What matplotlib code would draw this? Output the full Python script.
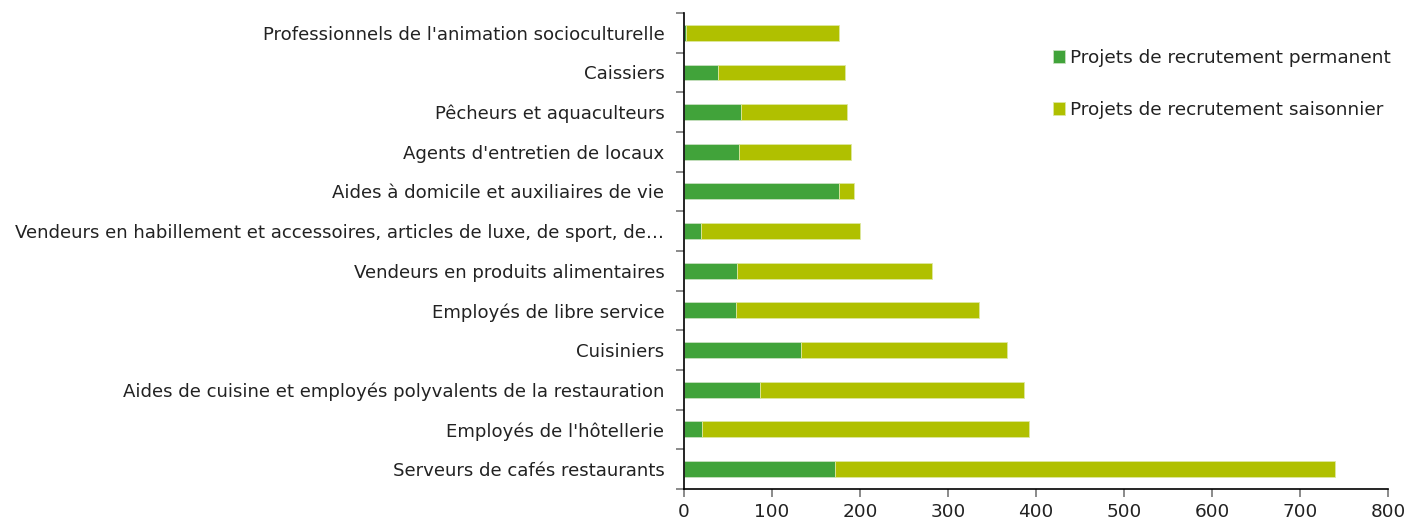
import numpy as np
import matplotlib
matplotlib.use('Agg')
import matplotlib.pyplot as plt
from matplotlib.ticker import FixedLocator

# categories from bottom to top
metiers = ["Serveurs de cafés restaurants",
           "Employés de l'hôtellerie",
           "Aides de cuisine et employés polyvalents de la restauration",
           "Cuisiniers",
           "Employés de libre service",
           "Vendeurs en produits alimentaires",
           "Vendeurs en habillement et accessoires, articles de luxe, de sport, de…",
           "Aides à domicile et auxiliaires de vie",
           "Agents d'entretien de locaux",
           "Pêcheurs et aquaculteurs",
           "Caissiers",
           "Professionnels de l'animation socioculturelle"]
permanent = [172, 21, 86, 133, 59, 60, 19, 176, 63, 65, 39, 2]
saisonnier = [568, 371, 301, 234, 276, 222, 181, 17, 127, 120, 144, 174]

vert = '#41a33a'
jaune = '#b0c000'

fig = plt.figure(figsize=(14.07, 5.2), dpi=100)
ax = fig.add_axes([0.486, 0.06, 0.5005, 0.915])

y = np.arange(len(metiers))
ax.barh(y, permanent, height=0.4, color=vert, edgecolor='#c8e0c0', linewidth=0.6,
        label='Projets de recrutement permanent')
ax.barh(y, saisonnier, left=permanent, height=0.4, color=jaune, edgecolor='#dde8a0',
        linewidth=0.6, label='Projets de recrutement saisonnier')

ax.set_xlim(0, 800)
ax.set_ylim(-0.5, len(metiers) - 0.5)
ax.set_xticks(range(0, 801, 100))
ax.set_yticks(y)
ax.set_yticklabels(metiers)
ax.yaxis.set_minor_locator(FixedLocator(np.arange(-0.5, len(metiers), 1)))
ax.tick_params(axis='y', which='major', length=0, pad=14, labelsize=13.1, labelcolor='#222222')
ax.tick_params(axis='y', which='minor', length=6, width=1.2, color='#777777')
ax.tick_params(axis='x', length=6, width=1.2, color='#777777', labelsize=13.3,
               labelcolor='#222222', pad=4)

for s in ['top', 'right']:
    ax.spines[s].set_visible(False)
ax.spines['left'].set_linewidth(1.2)
ax.spines['bottom'].set_linewidth(1.2)

leg = ax.legend(loc='upper left', bbox_to_anchor=(0.5, 0.96), frameon=False,
                fontsize=13.3, handlelength=0.7, handleheight=0.7, handletextpad=0.25,
                labelspacing=1.85)
for t in leg.get_texts():
    t.set_color('#222222')

fig.savefig('out.png', dpi=100)
